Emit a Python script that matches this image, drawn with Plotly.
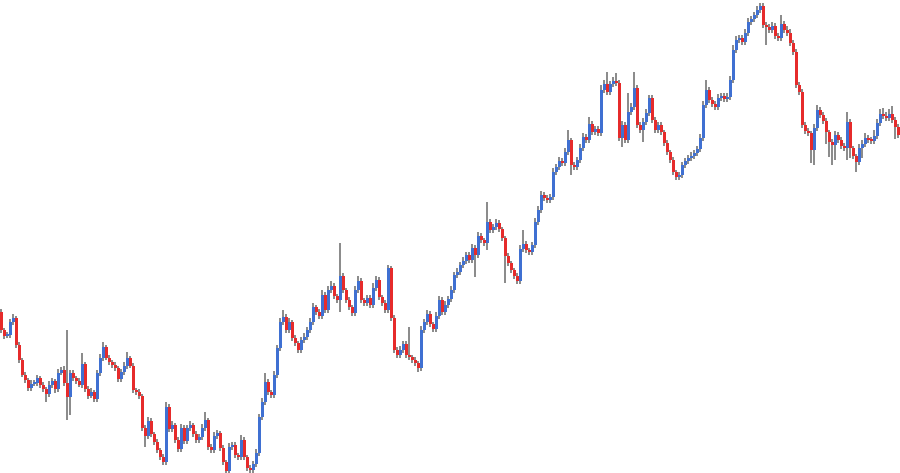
import plotly.graph_objects as go

first_open = 188

close = [
    170, 164, 165, 178, 182, 155, 140, 125, 120, 112,
    116, 117, 122, 115, 111, 106, 115, 119, 111, 127,
    130, 117, 103, 127, 122, 119, 115, 136, 111, 104,
    108, 101, 127, 142, 153, 142, 138, 135, 132, 121,
    128, 134, 142, 134, 110, 108, 104, 72, 64, 79,
    66, 58, 50, 43, 38, 93, 71, 75, 60, 51,
    72, 59, 72, 75, 66, 60, 63, 72, 80, 53,
    50, 64, 67, 52, 38, 29, 53, 55, 45, 43,
    60, 43, 32, 30, 36, 47, 83, 98, 118, 108,
    105, 125, 152, 178, 183, 170, 178, 162, 157, 150,
    160, 163, 170, 178, 193, 188, 184, 205, 190, 210,
    214, 204, 200, 224, 210, 200, 193, 187, 210, 219,
    200, 197, 202, 195, 212, 220, 203, 197, 190, 232,
    182, 150, 145, 150, 156, 145, 143, 140, 137, 132,
    170, 178, 186, 176, 171, 184, 200, 188, 195, 201,
    210, 225, 228, 235, 239, 245, 240, 252, 245, 264,
    260, 257, 278, 270, 273, 277, 271, 262, 244, 237,
    230, 224, 219, 251, 256, 250, 248, 255, 278, 290,
    305, 302, 300, 303, 328, 333, 339, 337, 348, 360,
    335, 333, 340, 352, 363, 360, 376, 368, 371, 367,
    410, 416, 408, 416, 419, 417, 362, 375, 360, 388,
    393, 412, 375, 370, 378, 387, 402, 380, 370, 375,
    368, 357, 348, 340, 328, 323, 325, 335, 339, 342,
    344, 347, 351, 362, 395, 410, 400, 396, 393, 402,
    404, 401, 403, 420, 450, 460, 462, 458, 467, 478,
    481, 485, 490, 494, 475, 473, 470, 474, 464, 462,
    476, 470, 467, 457, 448, 415, 408, 375, 369, 367,
    350, 372, 390, 385, 379, 368, 358, 355, 365, 360,
    354, 352, 378, 352, 344, 338, 352, 356, 362, 360,
    359, 364, 377, 386, 384, 382, 386, 380, 373, 365,
]

upper_wick = [
    3, 2, 3, 3, 4, 2, 3, 2, 3, 2,
    4, 3, 3, 2, 3, 2, 4, 3, 2, 4,
    3, 4, 53, 3, 3, 2, 3, 11, 2, 3,
    4, 2, 3, 4, 5, 2, 3, 2, 3, 2,
    3, 4, 6, 2, 3, 2, 3, 2, 3, 4,
    3, 2, 3, 2, 3, 5, 3, 4, 2, 3,
    4, 3, 3, 4, 2, 3, 3, 4, 8, 2,
    3, 4, 3, 2, 3, 2, 4, 3, 3, 2,
    5, 3, 2, 3, 3, 4, 3, 4, 9, 3,
    2, 4, 3, 4, 7, 3, 4, 2, 3, 2,
    3, 4, 3, 4, 4, 2, 3, 5, 3, 4,
    5, 3, 2, 33, 3, 2, 3, 2, 4, 5,
    3, 2, 3, 3, 5, 4, 3, 2, 3, 3,
    2, 3, 3, 4, 3, 3, 28, 2, 3, 2,
    4, 3, 4, 3, 2, 4, 4, 3, 4, 3,
    4, 3, 4, 3, 4, 3, 3, 4, 3, 4,
    3, 2, 20, 3, 3, 4, 3, 2, 2, 3,
    2, 2, 3, 4, 14, 3, 2, 3, 4, 4,
    4, 3, 3, 3, 4, 3, 4, 3, 4, 10,
    2, 3, 3, 4, 4, 3, 7, 3, 3, 3,
    5, 4, 12, 3, 4, 8, 3, 4, 3, 19,
    4, 16, 3, 3, 4, 4, 3, 3, 3, 3,
    3, 2, 3, 2, 3, 2, 3, 3, 3, 3,
    4, 3, 3, 4, 4, 10, 3, 3, 3, 4,
    3, 3, 4, 4, 5, 4, 3, 3, 4, 4,
    3, 3, 4, 3, 3, 3, 3, 4, 3, 3,
    9, 3, 4, 4, 3, 3, 3, 3, 3, 3,
    2, 4, 5, 3, 3, 3, 2, 3, 4, 3,
    3, 3, 10, 3, 2, 2, 4, 4, 5, 3,
    3, 6, 4, 5, 6, 4, 5, 8, 3, 3,
]

lower_wick = [
    3, 3, 2, 3, 3, 3, 3, 2, 3, 3,
    3, 2, 3, 3, 3, 8, 3, 3, 4, 3,
    2, 3, 23, 18, 3, 3, 2, 3, 3, 3,
    2, 3, 3, 3, 3, 2, 3, 3, 3, 3,
    3, 3, 3, 2, 3, 3, 3, 3, 11, 3,
    3, 3, 3, 3, 3, 3, 3, 3, 3, 3,
    3, 3, 3, 3, 3, 3, 3, 3, 3, 3,
    3, 3, 3, 3, 3, 3, 3, 3, 3, 3,
    3, 3, 3, 3, 3, 3, 3, 3, 3, 3,
    3, 3, 3, 3, 3, 3, 3, 3, 3, 3,
    3, 3, 3, 3, 3, 3, 3, 3, 3, 3,
    3, 3, 3, 12, 3, 3, 3, 3, 3, 3,
    3, 3, 3, 3, 3, 3, 3, 3, 3, 3,
    3, 3, 3, 3, 3, 3, 3, 3, 3, 4,
    3, 3, 3, 3, 3, 3, 3, 3, 3, 3,
    3, 3, 3, 3, 3, 3, 3, 3, 22, 3,
    3, 3, 7, 3, 3, 3, 3, 3, 27, 3,
    3, 3, 3, 3, 3, 3, 3, 3, 3, 3,
    3, 3, 3, 3, 3, 3, 3, 3, 3, 3,
    10, 3, 3, 3, 3, 3, 3, 3, 3, 3,
    3, 3, 3, 3, 3, 3, 3, 9, 3, 3,
    3, 3, 3, 3, 12, 3, 3, 3, 3, 3,
    3, 3, 3, 3, 3, 3, 3, 3, 3, 3,
    3, 3, 3, 3, 3, 3, 3, 3, 3, 3,
    3, 3, 3, 3, 3, 3, 3, 3, 3, 3,
    3, 3, 3, 3, 3, 18, 3, 3, 3, 3,
    3, 3, 3, 3, 3, 3, 3, 3, 3, 3,
    13, 15, 3, 3, 3, 12, 15, 20, 15, 3,
    3, 3, 12, 10, 3, 10, 3, 10, 3, 3,
    3, 3, 3, 3, 3, 3, 3, 3, 12, 3,
]

n = len(close)
opens = [first_open] + close[:-1]
idx = list(range(n))
body_lo = [min(o, c) for o, c in zip(opens, close)]
body_hi = [max(o, c) for o, c in zip(opens, close)]
high = [h + u for h, u in zip(body_hi, upper_wick)]
low = [l - d for l, d in zip(body_lo, lower_wick)]

UP = "#3f70d2"
DOWN = "#e62b2b"
WICK = "#8c8c8c"

fig = go.Figure()
fig.add_trace(go.Bar(
    x=idx, base=low, y=[h - l for h, l in zip(high, low)],
    width=0.34, marker=dict(color=WICK, line=dict(width=0)),
    hoverinfo="skip", showlegend=False,
))
fig.add_trace(go.Bar(
    x=idx, base=body_lo,
    y=[max(h - l, 1.2) for h, l in zip(body_hi, body_lo)],
    width=0.7,
    marker=dict(color=[UP if c >= o else DOWN for o, c in zip(opens, close)],
                line=dict(width=0)),
    showlegend=False,
))
fig.update_layout(
    width=900, height=473,
    margin=dict(l=0, r=0, t=0, b=0),
    paper_bgcolor="white", plot_bgcolor="white",
    barmode="overlay", bargap=0,
    xaxis=dict(visible=False, range=[-0.5, n - 0.5]),
    yaxis=dict(visible=False, range=[27, 500]),
)
fig.write_html(
    "out.html",
    config={"displayModeBar": False},
    post_script="document.body.style.margin='0';document.body.style.overflow='hidden';",
)
